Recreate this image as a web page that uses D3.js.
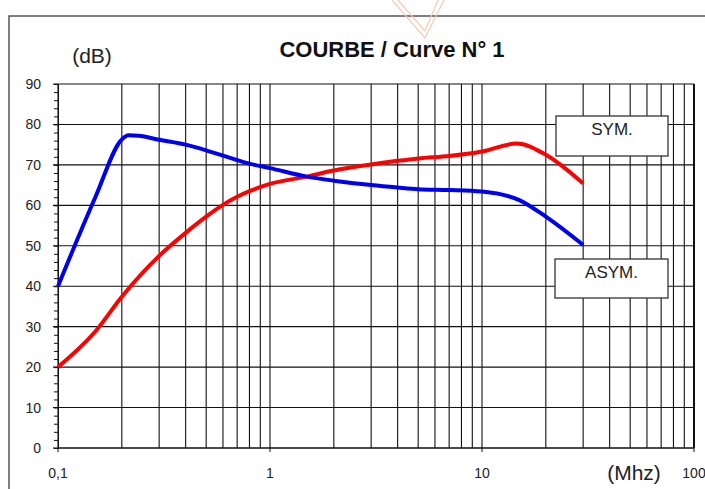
<!DOCTYPE html>
<html><head><meta charset="utf-8">
<script src="https://cdn.jsdelivr.net/npm/d3@7"></script>
<style>body{margin:0;background:#fff}svg{display:block;font-family:"Liberation Sans",Arial,sans-serif}</style>
</head><body>
<svg id="c" width="705" height="489"></svg>
<script>
const title = "COURBE / Curve N° 1";
const yTicks = [0,10,20,30,40,50,60,70,80,90];
const xTickValues = [0.1,1,10,100];
const xTickLabels = ["0,1","1","10","100"];
const seriesNames = ["SYM.","ASYM."];
const asymFreq = [0.1,0.15,0.2,0.215,0.24,0.3,0.4,0.5,0.6,0.7,0.8,1,1.49,2,3,4,5,7,10,15,20,30];
const asymDb   = [40,62,76.3,77.3,77.2,76.2,75,73.6,72.3,71.2,70.3,69.2,67.1,66.1,65.0,64.4,64.0,63.8,63.4,61.3,57.2,50.2];
const symFreq  = [0.1,0.15,0.2,0.3,0.4,0.5,0.6,0.7,0.8,1,1.49,2,3,4,5,7,10,14.6,20,30];
const symDb    = [20,28.8,37.4,47.5,53.2,57.2,60.1,62.1,63.5,65.3,67.1,68.6,70.1,71.0,71.6,72.2,73.3,75.3,72.5,65.4];

const svg = d3.select("#c");
const x = d3.scaleLog().domain([0.1,100]).range([58,694]);
const y = d3.scaleLinear().domain([0,90]).range([448,84]);

// outer frame
svg.append("rect").attr("x",9).attr("y",16).attr("width",800).attr("height",600)
  .attr("fill","none").attr("stroke","#555").attr("stroke-width",1.5);

// watermark chevron
const wm = svg.append("g").attr("stroke","#f8c8b0").attr("fill","none").attr("stroke-width",1.2);
wm.append("path").attr("d","M392,0 L425,38 L444,0");
wm.append("path").attr("d","M398,0 L425,31 L438,0");

// vertical grid (log minor)
const vlines = [];
for (let d=0.1; d<100; d*=10) for (let k=1;k<=9;k++) vlines.push(+(d*k).toPrecision(3));
vlines.push(100);
svg.append("g").selectAll("line").data(vlines).join("line")
  .attr("x1",d=>x(d)).attr("x2",d=>x(d)).attr("y1",y(90)).attr("y2",y(0))
  .attr("stroke","#111").attr("stroke-width",d=>d===100?2:1.1);

// horizontal grid
svg.append("g").selectAll("line").data(yTicks).join("line")
  .attr("x1",53).attr("x2",x(100)).attr("y1",d=>y(d)).attr("y2",d=>y(d))
  .attr("stroke","#111").attr("stroke-width",1.1);

// y axis with minor ticks
const yAxis = d3.axisLeft(y).tickValues(d3.range(0,91,2)).tickSize(4).tickFormat("");
const ya = svg.append("g").attr("transform","translate(58,0)").call(yAxis);
ya.selectAll("path,line").attr("stroke","#111");
svg.append("g").selectAll("text").data(yTicks).join("text")
  .attr("x",41).attr("y",d=>y(d)+5).attr("text-anchor","end")
  .attr("font-size",14).attr("fill","#222").text(d=>d);

// x axis
svg.append("line").attr("x1",58).attr("x2",x(100)).attr("y1",y(0)).attr("y2",y(0)).attr("stroke","#111").attr("stroke-width",1.2);
svg.append("g").selectAll("line").data(xTickValues).join("line")
  .attr("x1",d=>x(d)).attr("x2",d=>x(d)).attr("y1",y(0)).attr("y2",y(0)+4).attr("stroke","#111");
svg.append("g").selectAll("text").data(xTickValues).join("text")
  .attr("x",d=>x(d)).attr("y",478).attr("text-anchor","middle")
  .attr("font-size",14).attr("fill","#222").text((d,i)=>xTickLabels[i]);

svg.append("text").attr("x",634).attr("y",480).attr("text-anchor","middle")
  .attr("font-size",21).attr("fill","#222").text("(Mhz)");
svg.append("text").attr("x",92).attr("y",63).attr("text-anchor","middle")
  .attr("font-size",21).attr("fill","#222").text("(dB)");
svg.append("text").attr("x",392).attr("y",57).attr("text-anchor","middle")
  .attr("font-size",22).attr("font-weight","bold").attr("fill","#111").text(title);

// curves
const line = d3.line().x(d=>x(d[0])).y(d=>y(d[1])).curve(d3.curveMonotoneX);
svg.append("path").datum(symFreq.map((f,i)=>[f,symDb[i]])).attr("d",line)
  .attr("fill","none").attr("stroke","#f00").attr("stroke-width",4).attr("stroke-linejoin","round");
svg.append("path").datum(asymFreq.map((f,i)=>[f,asymDb[i]])).attr("d",line)
  .attr("fill","none").attr("stroke","#0000f0").attr("stroke-width",4).attr("stroke-linejoin","round");

// legend boxes
const boxes = [{n:seriesNames[0],x:556,y:116,w:112,h:40,b:135},{n:seriesNames[1],x:555,y:259,w:113,h:39,b:278}];
const bg = svg.append("g").selectAll("g").data(boxes).join("g");
bg.append("rect").attr("x",d=>d.x).attr("y",d=>d.y).attr("width",d=>d.w).attr("height",d=>d.h)
  .attr("fill","#fff").attr("stroke","#333").attr("stroke-width",1.3);
bg.append("text").attr("x",d=>d.x+d.w/2).attr("y",d=>d.b).attr("text-anchor","middle")
  .attr("font-size",17).attr("fill","#222").text(d=>d.n);
</script>
</body></html>
